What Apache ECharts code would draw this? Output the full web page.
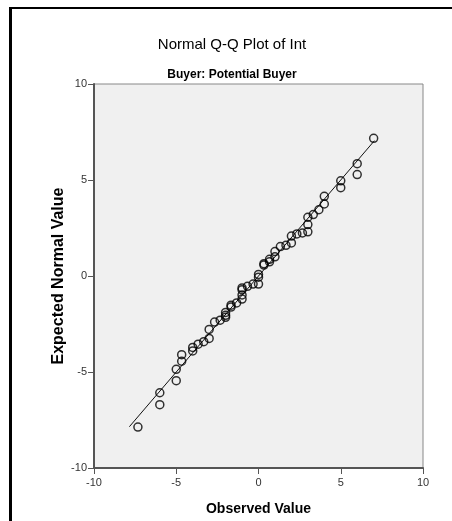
<!DOCTYPE html>
<html>
<head>
<meta charset="utf-8">
<script src="https://cdn.jsdelivr.net/npm/echarts@6/dist/echarts.min.js"></script>
<style>
html,body{margin:0;padding:0;background:#fff;}
#chart{width:452px;height:521px;}
</style>
</head>
<body>
<div id="chart"></div>
<script>
var titleText = 'Normal Q-Q Plot of Int';
var subtitleText = 'Buyer: Potential Buyer';
var xAxisName = 'Observed Value';
var yAxisName = 'Expected Normal Value';
var xTicks = [-10, -5, 0, 5, 10];
var yTicks = [-10, -5, 0, 5, 10];

var observed = [-7.33, -6, -6, -5, -5, -4.67, -4.67, -4, -4, -3.67, -3.33, -3, -3, -2.67, -2.33,
  -2, -2, -2, -1.67, -1.67, -1.33, -1, -1, -1, -1, -0.67, -0.33, 0, 0, 0,
  0.33, 0.33, 0.67, 0.67, 1, 1, 1.33, 1.67, 2, 2, 2.33, 2.67, 3, 3, 3,
  3.33, 3.67, 4, 4, 5, 5, 6, 6, 7];
var expected = [-7.87, -6.08, -6.7, -4.86, -5.45, -4.1, -4.44, -3.72, -3.9, -3.55, -3.42, -2.78, -3.25, -2.4, -2.3,
  -1.9, -2.05, -2.15, -1.52, -1.62, -1.4, -0.62, -0.72, -0.99, -1.2, -0.54, -0.42, 0.08, -0.06, -0.42,
  0.57, 0.64, 0.74, 0.87, 1.0, 1.27, 1.53, 1.6, 1.72, 2.08, 2.19, 2.24, 2.3, 2.68, 3.06,
  3.2, 3.45, 3.75, 4.15, 4.6, 4.96, 5.28, 5.85, 7.17];
var refLineX = [-7.85, 7.05];
var refLineY = [-7.85, 7.05];

var points = observed.map(function (v, i) { return [v, expected[i]]; });
var linePts = refLineX.map(function (v, i) { return [v, refLineY[i]]; });

var chart = echarts.init(document.getElementById('chart'), null, {renderer: 'canvas'});
var font = 'Arial, "Liberation Sans", sans-serif';
chart.setOption({
  animation: false,
  backgroundColor: '#ffffff',
  title: [
    {text: titleText, left: 232, top: 37, padding: 0, textAlign: 'center',
     textStyle: {fontFamily: font, fontSize: 15, fontWeight: 'normal', color: '#000'}},
    {text: subtitleText, left: 232, top: 69, padding: 0, textAlign: 'center',
     textStyle: {fontFamily: font, fontSize: 12, fontWeight: 'bold', color: '#000'}}
  ],
  graphic: [
    {type: 'rect', left: 9, top: 7, shape: {width: 3, height: 514}, style: {fill: '#000'}},
    {type: 'rect', left: 9, top: 7, shape: {width: 443, height: 2}, style: {fill: '#000'}}
  ],
  grid: {left: 94, right: 29, top: 84, bottom: 53, show: true, backgroundColor: '#f0f0f0',
         borderColor: '#888', borderWidth: 1},
  xAxis: {
    type: 'value', min: -10, max: 10, interval: 5,
    name: xAxisName, nameLocation: 'middle', nameGap: 34, nameMoveOverlap: false,
    nameTextStyle: {fontFamily: font, fontSize: 14, fontWeight: 'bold', color: '#000'},
    axisLine: {show: true, onZero: false, lineStyle: {color: '#555', width: 2}},
    axisTick: {show: true, length: 6, lineStyle: {color: '#555', width: 1}},
    axisLabel: {margin: 9, fontFamily: font, fontSize: 11, color: '#333',
      formatter: function (v) { return xTicks.indexOf(v) >= 0 ? String(v) : ''; }},
    splitLine: {show: false}
  },
  yAxis: {
    type: 'value', min: -10, max: 10, interval: 5,
    name: yAxisName, nameLocation: 'middle', nameGap: 27, nameRotate: 90, nameMoveOverlap: false,
    nameTextStyle: {fontFamily: font, fontSize: 16, fontWeight: 'bold', color: '#000'},
    axisLine: {show: true, onZero: false, lineStyle: {color: '#555', width: 2}},
    axisTick: {show: true, length: 6, lineStyle: {color: '#555', width: 1}},
    axisLabel: {margin: 7, fontFamily: font, fontSize: 11, color: '#333',
      formatter: function (v) { return yTicks.indexOf(v) >= 0 ? String(v) : ''; }},
    splitLine: {show: false}
  },
  series: [
    {type: 'line', data: linePts, symbol: 'none', silent: true,
     lineStyle: {color: '#111', width: 1}, z: 2},
    {type: 'scatter', data: points, symbol: 'circle', symbolSize: 8,
     itemStyle: {color: 'rgba(0,0,0,0)', borderColor: '#000', borderWidth: 1.5}, z: 3}
  ]
});
</script>
</body>
</html>
